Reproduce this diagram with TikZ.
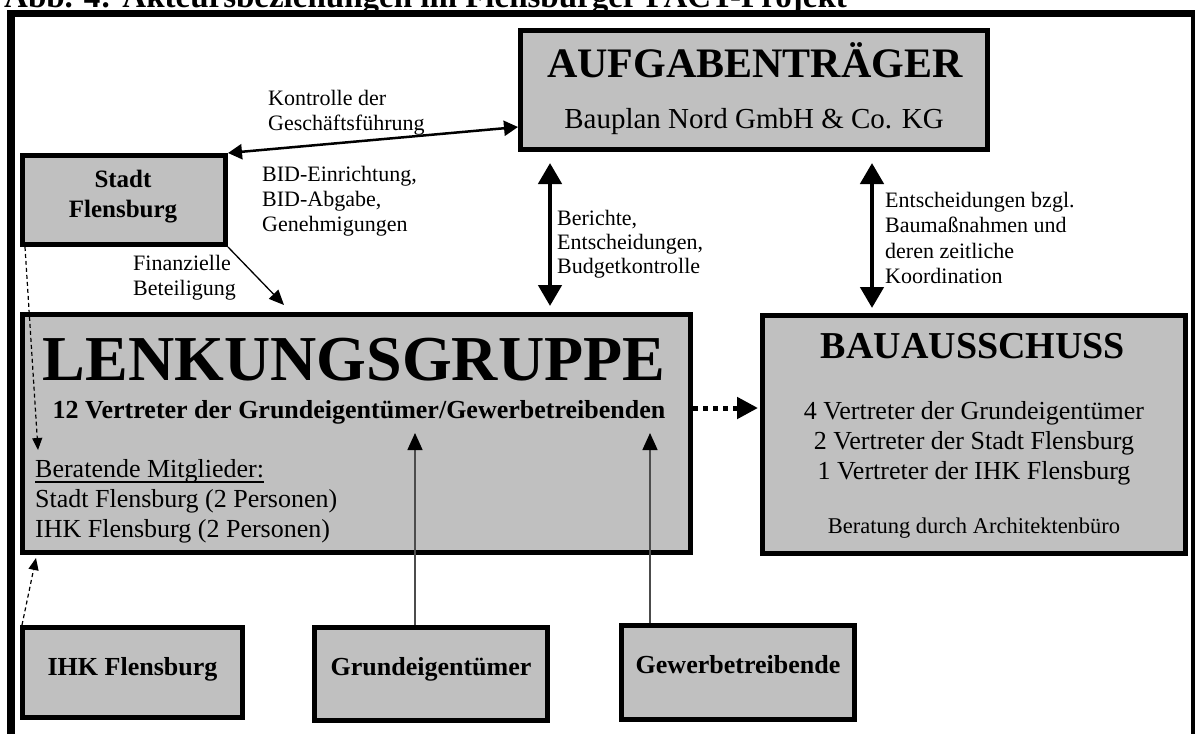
\documentclass[tikz,border=0pt]{standalone}
\usepackage{fontspec}
\setmainfont{Liberation Serif}
\usetikzlibrary{arrows.meta,calc}
\definecolor{boxgray}{RGB}{192,192,192}
\begin{document}
\begin{tikzpicture}[x=1pt,y=-1pt,
  box/.style={draw=black, fill=boxgray, line width=5pt, inner sep=0pt, rectangle},
  lab/.style={anchor=base west, inner sep=0pt, font=\fontsize{22}{25}\selectfont},
  txt/.style={anchor=base, inner sep=0pt, font=\fontsize{26}{30}\selectfont},
  txtl/.style={anchor=base west, inner sep=0pt, font=\fontsize{26}{30}\selectfont},
  btxt/.style={anchor=base, inner sep=0pt, font=\bfseries\fontsize{26}{30}\selectfont},
  kontrollarrow/.style={line width=2.5pt, {Triangle[length=14pt,width=15pt]}-{Triangle[length=14pt,width=15pt]}},
  dblarrow/.style={line width=4.6pt, {Triangle[length=21pt,width=23pt]}-{Triangle[length=21pt,width=23pt]}},
  thinarrow/.style={line width=1.3pt, -{Triangle[length=15pt,width=13pt]}},
  dasharrow/.style={line width=1.2pt, dash pattern=on 4pt off 3pt, -{Triangle[length=12pt,width=10pt]}},
  dotarrow/.style={line width=5pt, dash pattern=on 5pt off 5pt, -{Triangle[length=21pt,width=21pt]}},
  grayarrow/.style={line width=1.5pt, draw=black!70, -{Triangle[length=17pt,width=15pt,color=black]}}
]
\useasboundingbox (0,0) rectangle (1195,734);
\clip (0,0) rectangle (1195,734);

% title (cut off at the top)
\node[anchor=base west, inner sep=0pt, font=\bfseries\fontsize{33}{33}\selectfont] (title) at (4,7) {Abb. 4: Akteursbeziehungen im Flensburger PACT-Projekt};

% outer frame
\draw[line width=7.5pt] (11,13.5) rectangle (1195,760);

% boxes
\node[box, minimum width=467pt, minimum height=119pt] (auf) at (754,90) {};
\node[box, minimum width=203pt, minimum height=89pt] (stadt) at (124,200) {};
\node[box, minimum width=668pt, minimum height=238pt] (lg) at (356.5,433.5) {};
\node[box, minimum width=423pt, minimum height=238pt] (bau) at (974,434.5) {};
\node[box, minimum width=220pt, minimum height=90pt] (ihk) at (132.5,672.5) {};
\node[box, minimum width=233pt, minimum height=93pt] (grund) at (431,674) {};
\node[box, minimum width=233pt, minimum height=94pt] (gewer) at (738,672.5) {};

% texts in boxes
\node[anchor=base, inner sep=0pt, font=\bfseries\fontsize{42}{42}\selectfont] (auft) at (755,77) {AUFGABENTRÄGER};
\node[anchor=base, inner sep=0pt, font=\fontsize{29}{29}\selectfont] (aufs) at (754,128) {Bauplan Nord GmbH \& Co. KG};

\node[anchor=base, inner sep=0pt, font=\bfseries\fontsize{25}{30}\selectfont] (st1) at (123,187) {Stadt};
\node[anchor=base, inner sep=0pt, font=\bfseries\fontsize{25}{30}\selectfont] (st2) at (123,217) {Flensburg};

\node[anchor=base, inner sep=0pt, font=\bfseries\fontsize{64}{64}\selectfont] (lgt) at (354,380) {LENKUNGSGRUPPE};
\node[btxt] (lgs) at (359,418) {12 Vertreter der Grundeigentümer/Gewerbetreibenden};
\node[txtl] (bm) at (35,477) {Beratende Mitglieder:};
\draw[line width=1.3pt] ($(bm.base west)+(0,5)$) -- ($(bm.base east)+(0,5)$);
\node[txtl] (bm1) at (35,507) {Stadt Flensburg (2 Personen)};
\node[txtl] (bm2) at (35,537) {IHK Flensburg (2 Personen)};

\node[anchor=base, inner sep=0pt, font=\bfseries\fontsize{38}{38}\selectfont] (baut) at (973,358) {BAUAUSSCHUSS};
\node[txt] (bau1) at (974,419) {4 Vertreter der Grundeigentümer};
\node[txt] (bau2) at (974,449) {2 Vertreter der Stadt Flensburg};
\node[txt] (bau3) at (974,479) {1 Vertreter der IHK Flensburg};
\node[anchor=base, inner sep=0pt, font=\fontsize{22.5}{25}\selectfont] (bau4) at (974,533) {Beratung durch Architektenbüro};

\node[btxt] (ihkt) at (132.5,675) {IHK Flensburg};
\node[btxt] (grundt) at (431,675) {Grundeigentümer};
\node[btxt] (gewert) at (738,673) {Gewerbetreibende};

% connector labels
\node[lab] (k1) at (268,105) {Kontrolle der};
\node[lab] (k2) at (268,130) {Geschäftsführung};
\node[lab] (b1) at (262,181) {BID-Einrichtung,};
\node[lab] (b2) at (262,206) {BID-Abgabe,};
\node[lab] (b3) at (262,231) {Genehmigungen};
\node[lab] (f1) at (133,270) {Finanzielle};
\node[lab] (f2) at (133,295) {Beteiligung};
\node[lab] (r1) at (557,225) {Berichte,};
\node[lab] (r2) at (557,249) {Entscheidungen,};
\node[lab] (r3) at (557,273) {Budgetkontrolle};
\node[lab] (e1) at (885,207) {Entscheidungen bzgl.};
\node[lab] (e2) at (885,232) {Baumaßnahmen und};
\node[lab] (e3) at (885,258) {deren zeitliche};
\node[lab] (e4) at (885,283) {Koordination};

% free ends of connectors
\coordinate (kend) at ($(auf.south west)+(0,-25)$);
\coordinate (fintip) at (284,305);
\coordinate (stadttip) at (38,450);
\coordinate (ihktip) at (36,558);
\coordinate (grundtip) at (415,433);
\coordinate (gewertip) at (650,433);

% connectors
\draw[kontrollarrow] (stadt.north east) -- (kend);
\draw[dblarrow] ([xshift=32pt,yshift=-11pt]auf.south west) -- ([xshift=530pt,yshift=6pt]lg.north west);
\draw[dblarrow] ([xshift=354pt,yshift=-11pt]auf.south west) -- ([xshift=112pt,yshift=5pt]bau.north west);
\draw[thinarrow] (stadt.south east) -- (fintip);
\draw[dasharrow] ([xshift=5pt]stadt.south west) -- (stadttip);
\draw[dasharrow] ([xshift=2pt]ihk.north west) -- (ihktip);
\draw[dotarrow] ([yshift=25.5pt]lg.east) -- ([xshift=-2pt,yshift=26.5pt]bau.west);
\draw[grayarrow] ([xshift=-16pt]grund.north) -- (grundtip);
\draw[grayarrow] ([xshift=-88pt]gewer.north) -- (gewertip);
\end{tikzpicture}
\end{document}
